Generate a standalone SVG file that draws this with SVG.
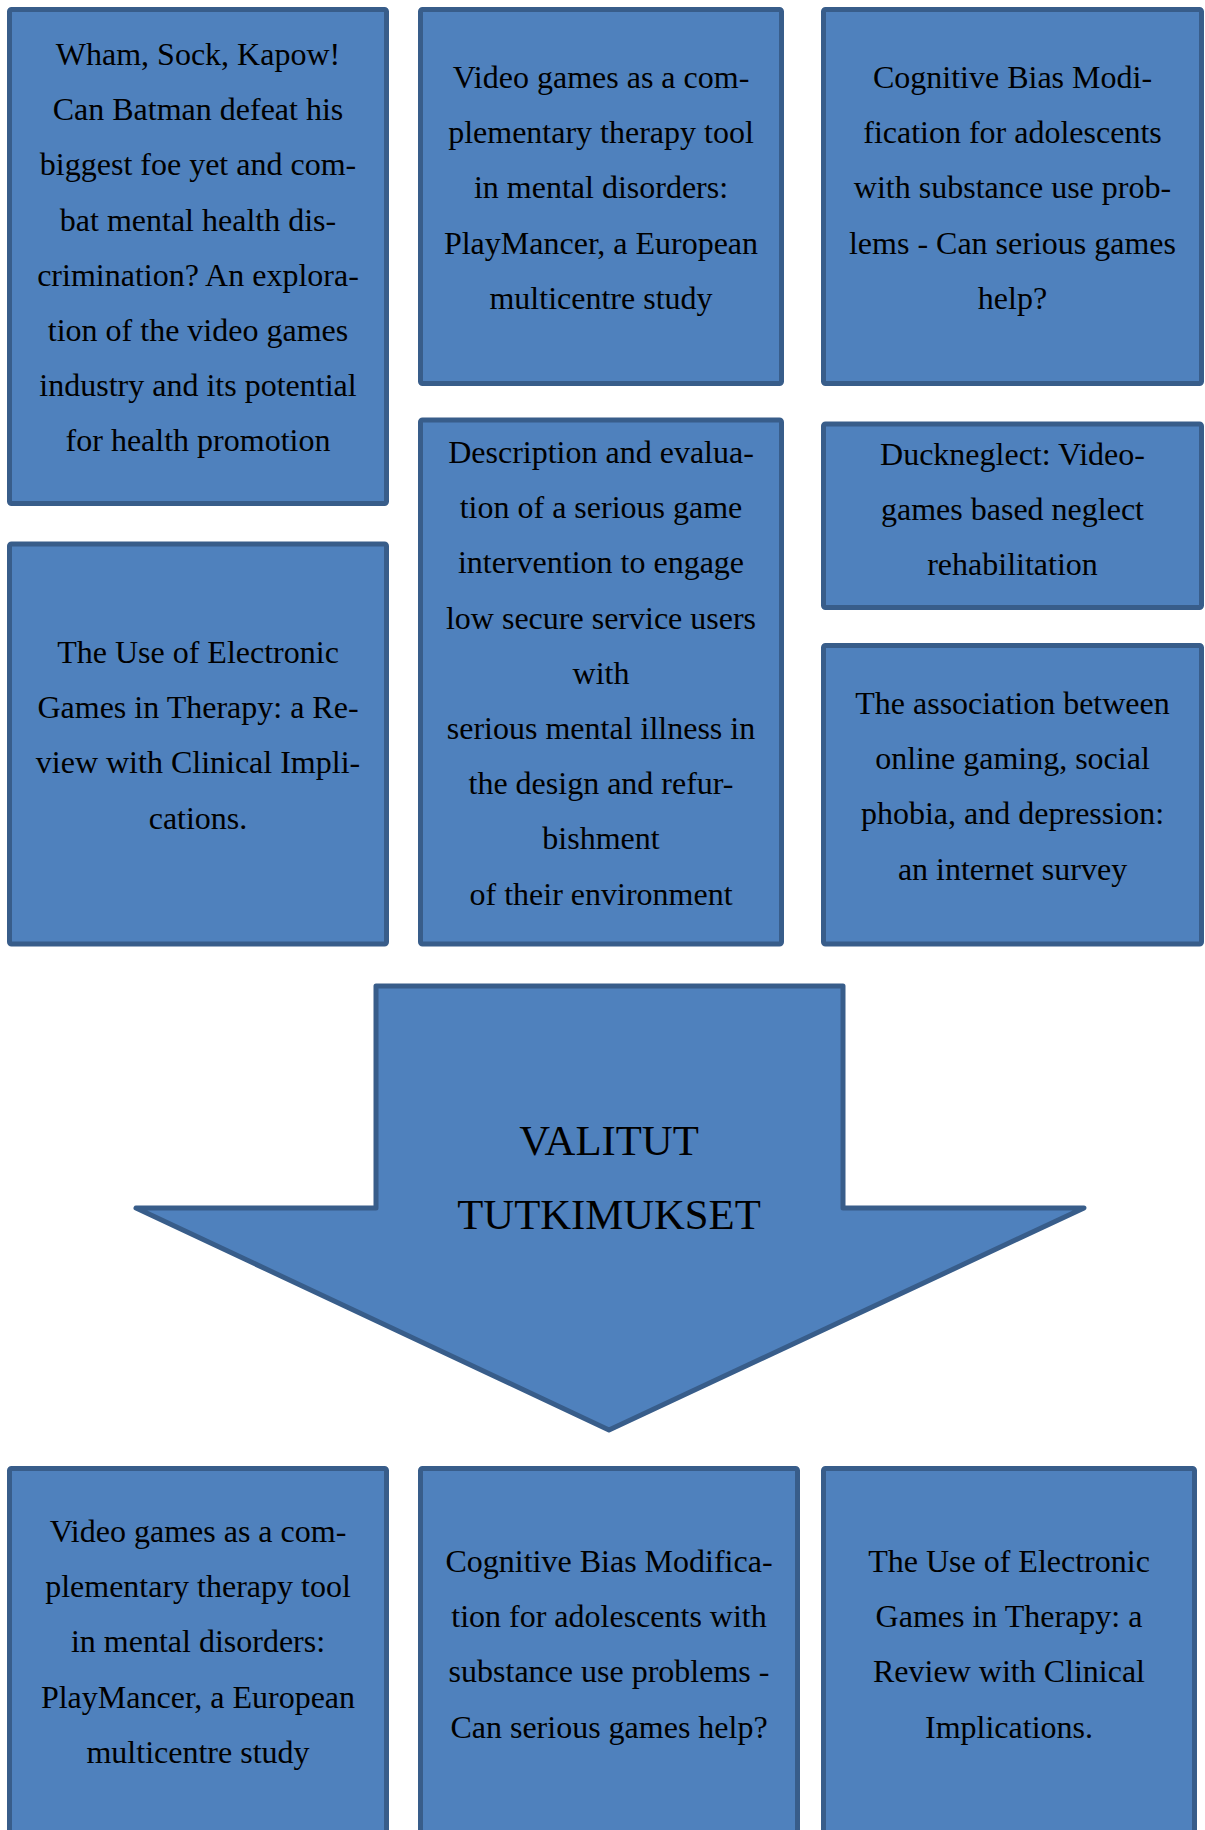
<svg xmlns="http://www.w3.org/2000/svg" width="1205" height="1830" viewBox="0 0 1205 1830">
<style>
.box{fill:#4F81BD;stroke:#385D8A;stroke-width:5;stroke-linejoin:round}
.t{font-family:"Liberation Serif","Times New Roman",serif;font-size:32px;fill:#000;text-anchor:middle}
.big{font-family:"Liberation Serif","Times New Roman",serif;font-size:42.7px;fill:#000;text-anchor:middle}
</style>
<rect width="1205" height="1830" fill="#fff"/>
<g id="connectors"></g>
<g id="n1">
<rect class="box" x="9.5" y="9.5" width="377" height="494" rx="2"/>
<text class="t" x="198"><tspan x="198" y="65">Wham, Sock, Kapow!</tspan><tspan x="198" y="120.2">Can Batman defeat his</tspan><tspan x="198" y="175.4">biggest foe yet and com-</tspan><tspan x="198" y="230.6">bat mental health dis-</tspan><tspan x="198" y="285.8">crimination? An explora-</tspan><tspan x="198" y="341">tion of the video games</tspan><tspan x="198" y="396.2">industry and its potential</tspan><tspan x="198" y="451.4">for health promotion</tspan></text>
</g>
<g id="n2">
<rect class="box" x="420.5" y="9.5" width="361" height="374" rx="2"/>
<text class="t"><tspan x="601" y="88">Video games as a com-</tspan><tspan x="601" y="143.2">plementary therapy tool</tspan><tspan x="601" y="198.4">in mental disorders:</tspan><tspan x="601" y="253.6">PlayMancer, a European</tspan><tspan x="601" y="308.8">multicentre study</tspan></text>
</g>
<g id="n3">
<rect class="box" x="823.5" y="9.5" width="378" height="374" rx="2"/>
<text class="t"><tspan x="1012.5" y="88">Cognitive Bias Modi-</tspan><tspan x="1012.5" y="143.2">fication for adolescents</tspan><tspan x="1012.5" y="198.4">with substance use prob-</tspan><tspan x="1012.5" y="253.6">lems - Can serious games</tspan><tspan x="1012.5" y="308.8">help?</tspan></text>
</g>
<g id="n4">
<rect class="box" x="9.5" y="544" width="377" height="400" rx="2"/>
<text class="t"><tspan x="198" y="663">The Use of Electronic</tspan><tspan x="198" y="718.2">Games in Therapy: a Re-</tspan><tspan x="198" y="773.4">view with Clinical Impli-</tspan><tspan x="198" y="828.6">cations.</tspan></text>
</g>
<g id="n5">
<rect class="box" x="420.5" y="420" width="361" height="524" rx="2"/>
<text class="t"><tspan x="601" y="463">Description and evalua-</tspan><tspan x="601" y="518.2">tion of a serious game</tspan><tspan x="601" y="573.4">intervention to engage</tspan><tspan x="601" y="628.6">low secure service users</tspan><tspan x="601" y="683.8">with</tspan><tspan x="601" y="739">serious mental illness in</tspan><tspan x="601" y="794.2">the design and refur-</tspan><tspan x="601" y="849.4">bishment</tspan><tspan x="601" y="904.6">of their environment</tspan></text>
</g>
<g id="n6">
<rect class="box" x="823.5" y="424" width="378" height="183.5" rx="2"/>
<text class="t"><tspan x="1012.5" y="465">Duckneglect: Video-</tspan><tspan x="1012.5" y="520.2">games based neglect</tspan><tspan x="1012.5" y="575.4">rehabilitation</tspan></text>
</g>
<g id="n7">
<rect class="box" x="823.5" y="645.5" width="378" height="298.5" rx="2"/>
<text class="t"><tspan x="1012.5" y="714">The association between</tspan><tspan x="1012.5" y="769.2">online gaming, social</tspan><tspan x="1012.5" y="824.4">phobia, and depression:</tspan><tspan x="1012.5" y="879.6">an internet survey</tspan></text>
</g>
<g id="arrow">
<polygon class="box" stroke-linejoin="miter" points="376,986 843,986 843,1208 1084,1208 609,1430 136,1208 376,1208"/>
<text class="big"><tspan x="609" y="1155">VALITUT</tspan><tspan x="609" y="1229">TUTKIMUKSET</tspan></text>
</g>
<g id="n8">
<rect class="box" x="9.5" y="1468.5" width="377" height="400" rx="2"/>
<text class="t"><tspan x="198" y="1542">Video games as a com-</tspan><tspan x="198" y="1597.2">plementary therapy tool</tspan><tspan x="198" y="1652.4">in mental disorders:</tspan><tspan x="198" y="1707.6">PlayMancer, a European</tspan><tspan x="198" y="1762.8">multicentre study</tspan></text>
</g>
<g id="n9">
<rect class="box" x="420.5" y="1468.5" width="377" height="400" rx="2"/>
<text class="t"><tspan x="609" y="1572">Cognitive Bias Modifica-</tspan><tspan x="609" y="1627.2">tion for adolescents with</tspan><tspan x="609" y="1682.4">substance use problems -</tspan><tspan x="609" y="1737.6">Can serious games help?</tspan></text>
</g>
<g id="n10">
<rect class="box" x="823.5" y="1468.5" width="371" height="400" rx="2"/>
<text class="t"><tspan x="1009" y="1572">The Use of Electronic</tspan><tspan x="1009" y="1627.2">Games in Therapy: a</tspan><tspan x="1009" y="1682.4">Review with Clinical</tspan><tspan x="1009" y="1737.6">Implications.</tspan></text>
</g>
</svg>
